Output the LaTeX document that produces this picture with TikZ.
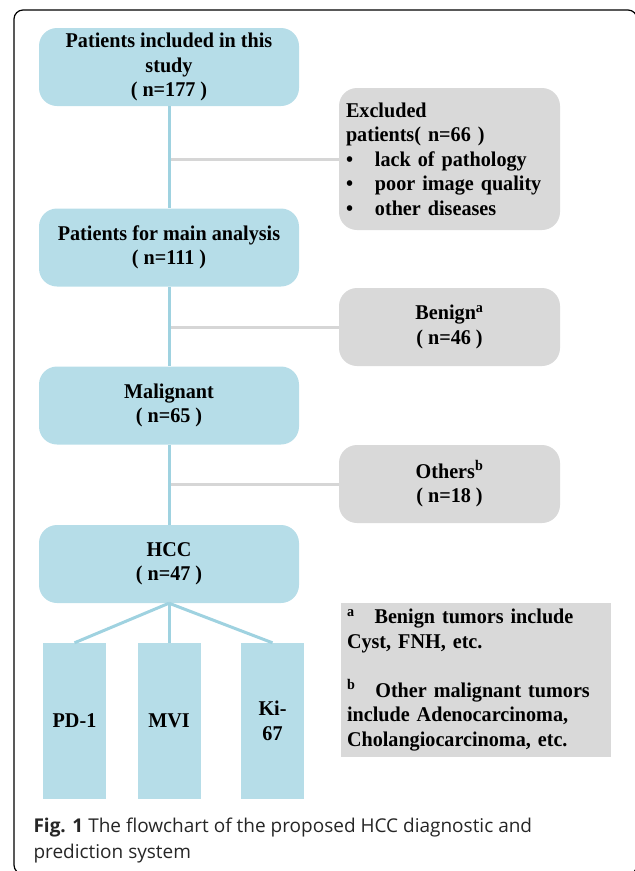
\documentclass[tikz,border=0pt]{standalone}
\usepackage{fontspec}
\setmainfont{Liberation Serif}[FakeStretch = 0.96]
\newfontfamily\capfont{Open Sans}
\usepackage{tikz}
\definecolor{boxblue}{HTML}{B6DDE8}
\definecolor{lineblue}{HTML}{9FD2E0}
\definecolor{boxgrey}{HTML}{D9D9D9}
\definecolor{linegrey}{HTML}{D6D6D6}

\begin{document}
\begin{tikzpicture}[x = 1pt, y = -1pt,
  font = \fontsize{21}{24.5}\selectfont\bfseries,
  bluebox/.style = {fill = boxblue, rounded corners = 18pt, minimum width = 260pt, minimum height = 78pt, inner sep = 0pt, align = center},
  greybox/.style = {fill = boxgrey, rounded corners = 18pt, minimum width = 221pt, minimum height = 78pt, inner sep = 0pt, align = center},
  barbox/.style = {fill = boxblue, minimum width = 63pt, minimum height = 156pt, inner sep = 0pt, align = center},
  blueline/.style = {draw = lineblue, line width = 3pt},
  greyline/.style = {draw = linegrey, line width = 3pt}]
\useasboundingbox (0, 0) rectangle (635, 871);
\draw[line width = 1.2pt, rounded corners = 9pt] (14, 10) rectangle (637, 874);

\node[bluebox] at (169, 67) (inc)     {Patients included in this\\study\\( n=177 )};
\node[bluebox] at (169, 247.5) (main) {Patients for main analysis\\( n=111 )};
\node[bluebox] at (169, 405.5) (malig) {Malignant\\( n=65 )};
\node[bluebox] at (169, 564) (hcc)    {HCC\\( n=47 )};

\node[greybox, minimum height = 142pt, text width = 207pt, align = left] at (449.5, 159) (excl)
  {Excluded\\patients( n=66 )\\\makebox[29pt][l]{\textbullet}lack of pathology\\\makebox[29pt][l]{\textbullet}poor image quality\\\makebox[29pt][l]{\textbullet}other diseases};
\node[greybox] at (449.5, 327) (benign) {Benign\textsuperscript{a}\\( n=46 )};
\node[greybox] at (449.5, 484) (others) {Others\textsuperscript{b}\\( n=18 )};

\node[barbox] at (74.5, 721) (pd)  {PD-1};
\node[barbox] at (169, 721) (mvi)  {MVI};
\node[barbox] at (272.5, 721) (ki) {Ki-\\67};

\node[fill = boxgrey, minimum width = 270pt, minimum height = 154pt, text width = 258pt, inner sep = 0pt, align = left] at (476, 680) (notes)
  {\textsuperscript{a}\hspace{20pt}Benign tumors include\\Cyst, FNH, etc.\\[24.5pt]\textsuperscript{b}\hspace{20pt}Other malignant tumors\\include Adenocarcinoma,\\Cholangiocarcinoma, etc.};

\draw[greyline] (inc.south |- excl.west) -- (excl.west);
\draw[greyline] (main.south |- benign.west) -- (benign.west);
\draw[greyline] (malig.south |- others.west) -- (others.west);
\draw[blueline] (inc) -- (main);
\draw[blueline] (main) -- (malig);
\draw[blueline] (malig) -- (hcc);
\draw[blueline] (hcc.south) -- (pd.north);
\draw[blueline] (hcc.south) -- (mvi.north);
\draw[blueline] (hcc.south) -- (ki.north);

\node[anchor = base west, font = \capfont\fontsize{19}{26}\selectfont, text = black!85] at (30, 832) (cap1)
  {\textbf{Fig. 1} The flowchart of the proposed HCC diagnostic and};
\node[anchor = base west, font = \capfont\fontsize{19}{26}\selectfont, text = black!85] at (30, 858) (cap2)
  {prediction system};
\end{tikzpicture}
\end{document}
